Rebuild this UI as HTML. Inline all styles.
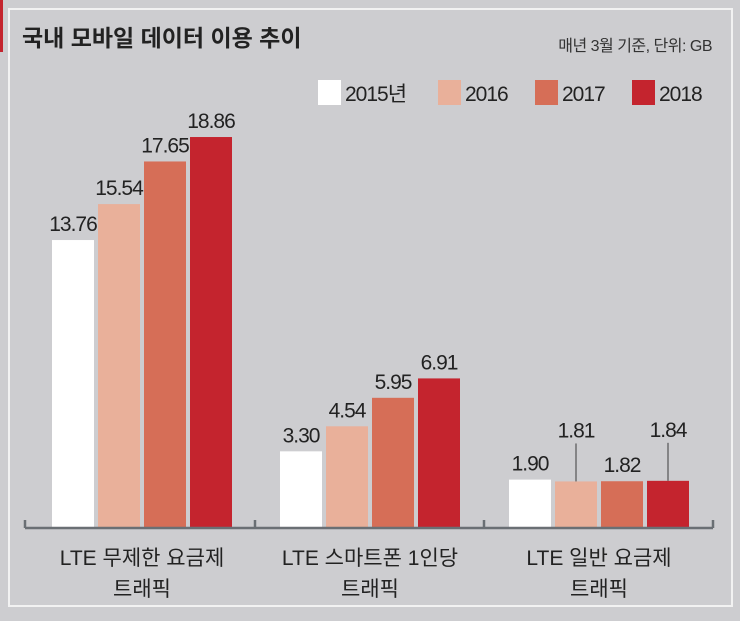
<!DOCTYPE html>
<html><head><meta charset="utf-8"><style>
body{margin:0;width:740px;height:616px;background:#cdcdd0;overflow:hidden;font-family:"Liberation Sans","Noto Sans CJK KR",sans-serif;}
</style></head><body>
<svg width="740" height="616" xmlns="http://www.w3.org/2000/svg" style="font-family:'Liberation Sans','Noto Sans CJK KR',sans-serif">
<rect x="0" y="0" width="740" height="616" fill="#cdcdd0"/>
<rect x="9" y="9" width="723" height="597" fill="none" stroke="#f2f2f2" stroke-width="2"/>
<rect x="0" y="0" width="3" height="52" fill="#c4242e"/>
<text x="22" y="46" font-size="23" font-weight="bold" fill="#222">국내 모바일 데이터 이용 추이</text>
<text x="712" y="51" font-size="16" fill="#333" text-anchor="end" letter-spacing="-0.5">매년 3월 기준, 단위: GB</text>
<g id="legend"></g>
<g id="bars"></g>
<g id="axis"></g>
</svg>
<script>
const categories1=["LTE 무제한 요금제","LTE 스마트폰 1인당","LTE 일반 요금제"];
const categories2=["트래픽","트래픽","트래픽"];
const seriesNames=["2015년","2016","2017","2018"];
const v2015=[13.76,3.30,1.90];
const v2016=[15.54,4.54,1.81];
const v2017=[17.65,5.95,1.82];
const v2018=[18.86,6.91,1.84];
const labels2015=["13.76","3.30","1.90"];
const labels2016=["15.54","4.54","1.81"];
const labels2017=["17.65","5.95","1.82"];
const labels2018=["18.86","6.91","1.84"];
const colors=["#ffffff","#e9b09a","#d66e57","#c4242e"];
const NS="http://www.w3.org/2000/svg";
function mk(t,a,p){const e=document.createElementNS(NS,t);for(const k in a)e.setAttribute(k,a[k]);p.appendChild(e);return e;}
const base=527;
function yScale(v){return base-(9+20.2*v);}
const groupX=[52,280,509];
function xPos(g,s){return groupX[g]+s*46;}
const bw=42;
const series=[v2015,v2016,v2017,v2018];
const slabels=[labels2015,labels2016,labels2017,labels2018];
const bars=document.getElementById('bars');
for(let g=0;g<3;g++){
 for(let s=0;s<4;s++){
  const y=yScale(series[s][g]);const x=xPos(g,s);
  const r=mk('rect',{x:x,y:y,width:bw,height:base-y,fill:colors[s]},bars);
  
  
  let ly=y-9;
  if(g===2&&(s===1||s===3)){
   ly=y-44;
   const ln=mk('line',{x1:x+bw/2,y1:y,x2:x+bw/2,y2:ly+6,stroke:'#555','stroke-width':1.2},bars);
   
   
  }
  const t=mk('text',{x:x+bw/2,y:ly,'font-size':21,'text-anchor':'middle',fill:'#222','letter-spacing':'-1'},bars);
  t.textContent=slabels[s][g];
  
  
 }
}
const ax=document.getElementById('axis');
mk('line',{x1:25,y1:base+1,x2:713,y2:base+1,stroke:'#6a6f74','stroke-width':2.5},ax);
[25,255,484,713].forEach(x=>mk('line',{x1:x,y1:base-7,x2:x,y2:base+1,stroke:'#6a6f74','stroke-width':2.5},ax));
for(let g=0;g<3;g++){
 const cx=xPos(g,0)+(3*46+bw)/2;
 const t1=mk('text',{x:cx,y:565,'font-size':21,'text-anchor':'middle',fill:'#222'},ax);
 t1.textContent=categories1[g];
 
 
 const t2=mk('text',{x:cx,y:596,'font-size':21,'text-anchor':'middle',fill:'#222'},ax);
 t2.textContent=categories2[g];
 
 
}
const lg=document.getElementById('legend');
const lx=[318,438,535,632];
for(let s=0;s<4;s++){
 const r=mk('rect',{x:lx[s],y:80,width:23,height:25,fill:colors[s]},lg);
 
 
 const t=mk('text',{x:lx[s]+27,y:101,'font-size':21,fill:'#222','letter-spacing':'-1'},lg);
 t.textContent=seriesNames[s];
 
 
}
</script>
</body></html>
